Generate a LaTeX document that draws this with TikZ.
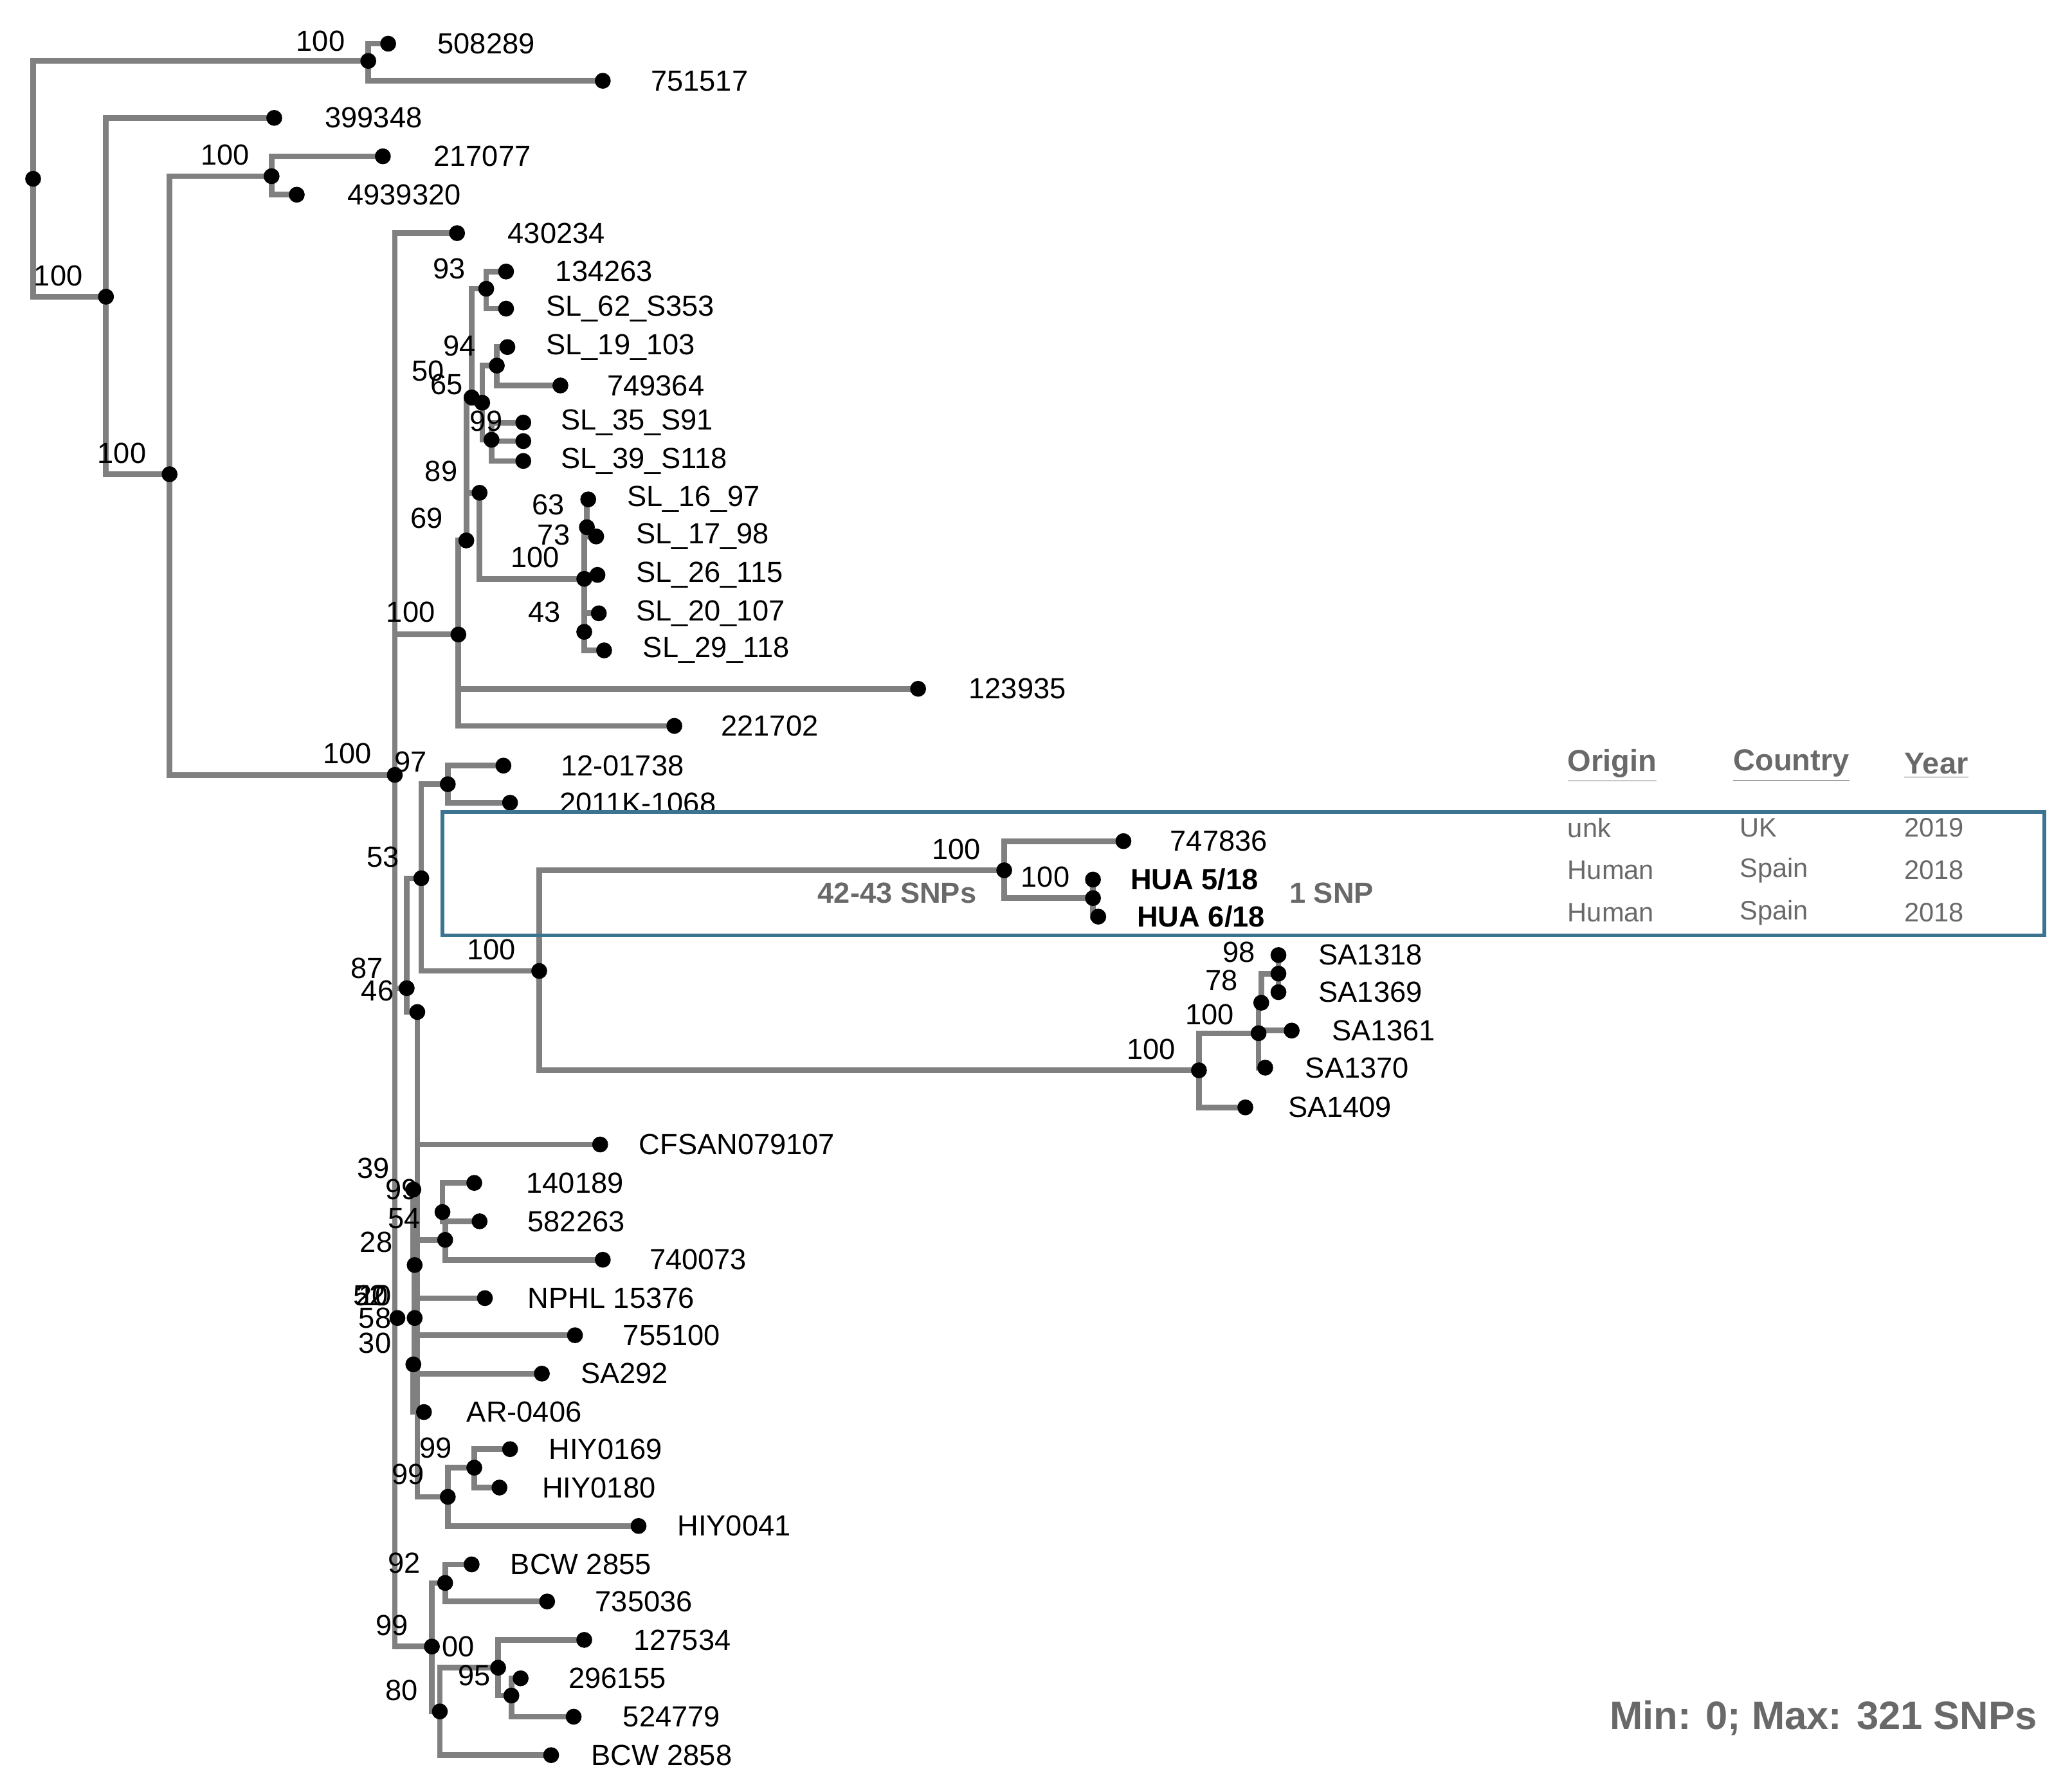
\documentclass[tikz,border=0pt]{standalone}
\usepackage{fontspec}
\setmainfont{Liberation Sans}
\usetikzlibrary{backgrounds}
\definecolor{br}{RGB}{128,128,128}
\definecolor{tg}{RGB}{105,105,105}
\definecolor{bx}{RGB}{60,115,145}
\begin{document}
\begin{tikzpicture}[x=0.02cm,y=-0.02cm,
 dot/.style={circle,fill=black,inner sep=0pt,minimum size=0.24cm},
 br/.style={draw=br,line width=2.4pt},
 lab/.style={anchor=west,inner sep=0pt,font=\fontsize{12.5}{14}\selectfont},
 sup/.style={inner sep=0pt,font=\fontsize{12.5}{14}\selectfont},
 tab/.style={anchor=west,inner sep=0pt,text=tg,font=\fontsize{11.5}{13}\selectfont}]
\useasboundingbox (0,0) rectangle (1564,1345.6);
\newcommand\lf[5]{\node[dot] (#1) at (#2,#3) {}; \node[lab] (t#1) at (#4,#3) {#5};}
\newcommand\inn[6]{\node[dot] (#1) at (#2,#3) {}; \node[sup] (s#1) at (#4,#5) {#6};}
% internal nodes
\node[dot] (r0) at (25,135) {};
\inn{n1}{278}{46}{242}{31}{100}
\inn{n2}{80}{224}{44}{208}{100}
\inn{n3}{128}{358}{92}{342}{100}
\inn{n4}{205}{133}{170}{117}{100}
\inn{n5}{298}{585}{262}{569}{100}
\inn{n6}{346}{479}{310}{462}{100}
\inn{n8}{352}{408}{322}{391}{69}
\inn{n9}{356}{300}{323}{280}{50}
\inn{n15}{364}{304}{337}{290}{65}
\inn{n10}{367}{218}{339}{203}{93}
\inn{n11}{375}{276}{347}{261}{94}
\inn{n12}{371}{332}{367}{318}{99}
\inn{n13}{362}{372}{333}{356}{89}
\inn{n14}{441}{437}{404}{421}{100}
\inn{n16}{443}{398}{414}{381}{63}
\inn{n17}{441}{477}{411}{462}{43}
\node[sup] at (418,404) {73};
\inn{n28}{307}{746}{277}{731}{87}
\inn{n19}{318}{663}{289}{647}{53}
\inn{n20}{338}{592}{310}{575}{97}
\inn{n21}{407}{733}{371}{717}{100}
\inn{n22}{758}{657}{722}{641}{100}
\inn{n24}{825}{678}{789}{662}{100}
\inn{n23}{905}{808}{869}{792}{100}
\inn{n25}{950}{780}{913}{766}{100}
\inn{n26}{952}{757}{922}{740}{78}
\inn{n27}{965}{735}{935}{719}{98}
\inn{n29}{315}{764}{285}{748}{46}
\inn{n30}{312}{898}{282}{882}{39}
\node[sup] at (303,898) {99};
\inn{n31}{336}{936}{284}{938}{28}
\inn{n33}{334}{915}{305}{920}{54}
\inn{n32}{313}{955}{279}{978}{52}
\node[sup] at (281,978) {20};\node[sup] at (283,978) {10};
\inn{n34}{313}{995}{283}{995}{58}
\inn{n35}{312}{1030}{283}{1014}{30}
\node[dot] (n37) at (300,995) {};
\inn{n36}{338}{1130}{308}{1113}{99}
\inn{n38}{358}{1108}{329}{1093}{99}
\inn{n39}{326}{1243}{296}{1227}{99}
\inn{n40}{336}{1195}{305}{1180}{92}
\inn{n41}{332}{1292}{303}{1276}{80}
\inn{n42}{376}{1259}{358}{1265}{95}
\node[sup] at (346,1243) {00};
\node[dot] (n43) at (386,1280) {};
% leaves
\lf{a1}{293}{33}{330}{508289}
\lf{a2}{455}{61}{491}{751517}
\lf{a3}{207}{89}{245}{399348}
\lf{a4}{289}{118}{327}{217077}
\lf{a5}{224}{147}{262}{4939320}
\lf{a6}{345}{176}{383}{430234}
\lf{a7}{382}{205}{419}{134263}
\lf{a8}{382}{233}{412}{SL\_62\_S353}
\lf{a9}{383}{262}{412}{SL\_19\_103}
\lf{a10}{423}{291}{458}{749364}
\lf{a11}{395}{319}{423}{SL\_35\_S91}
\node[dot] (a11b) at (395,333) {};
\lf{a12}{395}{348}{423}{SL\_39\_S118}
\lf{a13}{444}{377}{473}{SL\_16\_97}
\lf{a14}{450}{405}{480}{SL\_17\_98}
\lf{a15}{451}{434}{480}{SL\_26\_115}
\lf{a16}{452}{463}{480}{SL\_20\_107}
\lf{a17}{456}{491}{485}{SL\_29\_118}
\lf{a18}{693}{520}{731}{123935}
\lf{a19}{509}{548}{544}{221702}
\lf{a20}{380}{578}{423}{12-01738}
\lf{a21}{385}{606}{422}{2011K-1068}
\lf{a22}{848}{635}{883}{747836}
\node[dot] (a23) at (825,664) {};\node[lab,font=\fontsize{12.5}{14}\selectfont\bfseries] at (853,664) {HUA 5/18};
\node[dot] (a24) at (829,692) {};\node[lab,font=\fontsize{12.5}{14}\selectfont\bfseries] at (858,692) {HUA 6/18};
\lf{a25}{965}{721}{995}{SA1318}
\lf{a26}{965}{749}{995}{SA1369}
\lf{a27}{975}{778}{1005}{SA1361}
\lf{a28}{955}{806}{985}{SA1370}
\lf{a29}{940}{836}{972}{SA1409}
\lf{a30}{453}{864}{482}{CFSAN079107}
\lf{a31}{358}{893}{397}{140189}
\lf{a32}{362}{922}{398}{582263}
\lf{a33}{455}{951}{490}{740073}
\lf{a34}{366}{980}{398}{NPHL 15376}
\lf{a35}{434}{1008}{470}{755100}
\lf{a36}{409}{1037}{438}{SA292}
\lf{a37}{320}{1066}{352}{AR-0406}
\lf{a38}{385}{1094}{414}{HIY0169}
\lf{a39}{377}{1123}{409}{HIY0180}
\lf{a40}{482}{1152}{511}{HIY0041}
\lf{a41}{356}{1181}{385}{BCW 2855}
\lf{a42}{413}{1209}{449}{735036}
\lf{a43}{441}{1238}{478}{127534}
\lf{a44}{393}{1267}{429}{296155}
\lf{a45}{433}{1296}{470}{524779}
\lf{a46}{416}{1325}{446}{BCW 2858}
% branches
\begin{scope}[on background layer]
\foreach \p/\c in {r0/n1,r0/n2,n1/a1,n1/a2,n2/a3,n2/n3,n3/n4,n3/n5,n4/a4,n4/a5,
 n5/a6,n5/n6,n5/n28,n5/n39,n5/n37,n6/n8,n6/a18,n6/a19,n8/n9,n8/n13,n9/n10,n9/n15,
 n10/a7,n10/a8,n15/n11,n15/n12,n11/a9,n11/a10,n12/a11,n12/a11b,n12/a12,n13/n14,
 n14/n16,n14/a15,n14/n17,n16/a13,n16/a14,n17/a16,n17/a17,
 n28/n19,n28/n29,n19/n20,n19/n21,n20/a20,n20/a21,n21/n22,n21/n23,n22/a22,n22/n24,
 n24/a23,n24/a24,n23/n25,n23/a29,n25/n26,n25/a27,n25/a28,n26/n27,n27/a25,n27/a26,
 n29/a30,n29/n30,n29/n36,n30/n31,n30/n32,n31/n33,n31/a33,n33/a31,n33/a32,
 n32/a34,n32/n34,n34/a35,n34/n35,n35/a36,n35/a37,n36/n38,n36/a40,n38/a38,n38/a39,
 n39/n40,n39/n41,n40/a41,n40/a42,n41/n42,n41/a46,n42/a43,n42/n43,n43/a44,n43/a45}
 \draw[br] (\p.center) |- (\c.center);
\end{scope}
% highlight box and annotations
\node[draw=bx,line width=1.6pt,minimum width=1209*0.02cm,minimum height=93*0.02cm,inner sep=0pt] (box) at (938.5,659.5) {};
\node[tab,font=\fontsize{12.5}{14}\selectfont\bfseries] (snp1) at (617,674) {42-43 SNPs};
\node[tab,font=\fontsize{12.5}{14}\selectfont\bfseries] (snp2) at (973,674) {1 SNP};
\node[tab,font=\fontsize{13}{15}\selectfont\bfseries] (h1) at (1183,578) {\underline{Origin}};
\node[tab,font=\fontsize{13}{15}\selectfont\bfseries] (h2) at (1308,578) {\underline{Country}};
\node[tab,font=\fontsize{13}{15}\selectfont\bfseries] (h3) at (1437,578) {\underline{Year}};
\node[tab] at (1183,625) {unk};\node[tab] at (1313,625) {UK};\node[tab] at (1437,625) {2019};
\node[tab] at (1183,657) {Human};\node[tab] at (1313,657) {Spain};\node[tab] at (1437,657) {2018};
\node[tab] at (1183,689) {Human};\node[tab] at (1313,689) {Spain};\node[tab] at (1437,689) {2018};
\node[tab,anchor=east,font=\fontsize{17}{20}\selectfont\bfseries] (mm) at (1538,1297) {Min: 0; Max: 321 SNPs};
\end{tikzpicture}
\end{document}
